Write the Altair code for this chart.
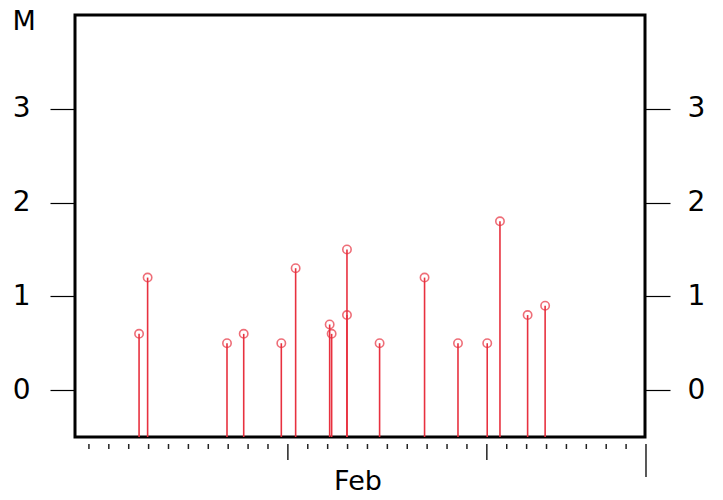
import altair as alt
import pandas as pd

# stem positions (in x-axis tick units) and values
xpos = [2.52, 2.95, 6.94, 7.78, 9.67, 10.39, 12.10, 12.20, 12.97, 12.97,
        14.61, 16.87, 18.55, 20.02, 20.66, 22.05, 22.93]
vals = [0.6, 1.2, 0.5, 0.6, 0.5, 1.3, 0.7, 0.6, 1.5, 0.8,
        0.5, 1.2, 0.5, 0.5, 1.8, 0.8, 0.9]

minor_ticks = [0, 1, 2, 3, 4, 5, 6, 7, 8, 9, 11, 12, 13, 14, 15, 16, 17, 18, 19,
               21, 22, 23, 24, 25, 26, 27]
major_ticks = [10, 20]
end_ticks = [28]
ytick_vals = [0, 1, 2, 3]
month_pos = [13.5]
month_name = "Feb"

W, H = 570, 422
RED = "#e8313f"
FONT = "DejaVu Sans"

df = pd.DataFrame({"k": xpos, "v": vals})
df_minor = pd.DataFrame({"k": minor_ticks})
df_major = pd.DataFrame({"k": major_ticks})
df_end = pd.DataFrame({"k": end_ticks})

xscale = alt.Scale(domain=[-0.7, 27.95], nice=False, zero=False)
yscale = alt.Scale(domain=[-0.5, 4.0], nice=False, zero=False)

xaxis = alt.Axis(values=month_pos, labelExpr=f"'{month_name}'", ticks=False, tickSize=0,
                 domain=False, grid=False, title=None, labelFontSize=27,
                 labelFont=FONT, labelBaseline="alphabetic", labelPadding=52,
                 labelColor="black")
x_enc = alt.X("k:Q", scale=xscale, axis=xaxis)

yleft = alt.Axis(values=ytick_vals, orient="left", tickSize=25, tickWidth=1.2,
                 tickColor="black", domain=False, grid=False, labelFontSize=28,
                 labelFont=FONT, labelColor="black", labelPadding=20,
                 title="M", titleAngle=0, titleX=-63, titleY=14, titleAlign="left",
                 titleBaseline="alphabetic", titleFontSize=27, titleFont=FONT,
                 titleFontWeight="normal", titleColor="black")
yright = alt.Axis(values=ytick_vals, orient="right", tickSize=25, tickWidth=1.2,
                  tickColor="black", domain=False, grid=False, labelFontSize=28,
                  labelFont=FONT, labelColor="black", labelPadding=17, title=None)

stems = alt.Chart(df).mark_rule(color=RED, strokeWidth=1.6).encode(
    x=x_enc,
    y=alt.Y("v:Q", scale=yscale, axis=yleft),
    y2=alt.datum(-0.5),
)
circles = alt.Chart(df).mark_point(shape="circle", filled=False, size=70,
                                   strokeWidth=1.6, color=RED).encode(
    x=x_enc,
    y=alt.Y("v:Q", scale=yscale, axis=yright),
)
minor = alt.Chart(df_minor).mark_rule(color="#222", strokeWidth=1.5).encode(
    x=x_enc, y=alt.value(H + 7), y2=alt.value(H + 12))
major = alt.Chart(df_major).mark_rule(color="#222", strokeWidth=1.5).encode(
    x=x_enc, y=alt.value(H + 7), y2=alt.value(H + 23))
end = alt.Chart(df_end).mark_rule(color="#222", strokeWidth=1.5).encode(
    x=x_enc, y=alt.value(H + 7), y2=alt.value(H + 40))

chart = alt.layer(stems, circles, minor, major, end).resolve_axis(
    y="independent"
).properties(
    width=W, height=H,
    autosize=alt.AutoSizeParams(type="none"),
    padding={"left": 67, "top": 7, "right": 70, "bottom": 55},
    background="white",
).configure_view(stroke="black", strokeWidth=3)

chart.save("out.html", embed_options={"renderer": "svg", "actions": False})
